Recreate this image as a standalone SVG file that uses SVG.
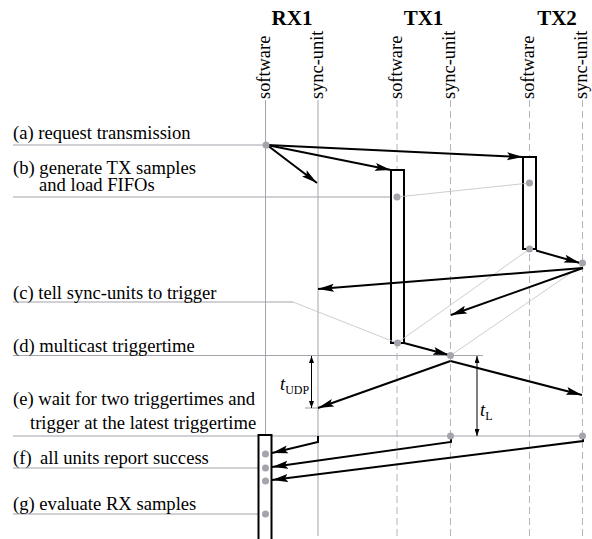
<svg xmlns="http://www.w3.org/2000/svg" width="592" height="539" viewBox="0 0 592 539">
  <style>
    .head { font-family: "Liberation Serif", "Times New Roman", serif; font-weight: bold; font-size: 21px; fill: #000; text-anchor: middle; }
    .role { font-family: "Liberation Serif", "Times New Roman", serif; font-size: 18.4px; fill: #000; text-anchor: start; }
    .lbl { font-family: "Liberation Serif", "Times New Roman", serif; font-size: 18.6px; fill: #000; }
    .sym { font-family: "Liberation Serif", "Times New Roman", serif; font-size: 18.6px; font-style: italic; fill: #000; }
    .sub { font-family: "Liberation Serif", "Times New Roman", serif; font-size: 12px; fill: #000; }
    .life { stroke: #a4a4ac; stroke-width: 1; fill: none; }
    .dash { stroke: #b4b4bc; stroke-width: 1; stroke-dasharray: 7 4; fill: none; }
    .row { stroke: #a4a4ac; stroke-width: 1.1; fill: none; }
    .thin { stroke: #c0c0c6; stroke-width: 0.8; fill: none; }
    .msg { stroke: #000; stroke-width: 2; fill: none; marker-end: url(#arr); }
    .act { stroke: #000; stroke-width: 2; fill: #fff; }
    .dot { fill: #a4a4ac; }
    .dim { stroke: #000; stroke-width: 1; fill: none; marker-start: url(#tipS); marker-end: url(#tip); }
  </style>
  <defs>
    <marker id="arr" markerUnits="userSpaceOnUse" markerWidth="17" markerHeight="9" viewBox="0 0 17 9" refX="16" refY="4.5" orient="auto">
      <path d="M0,0.5 L16,4.5 L0,8.5 L3,4.5 z" fill="#000"/>
    </marker>
    <marker id="tip" markerUnits="userSpaceOnUse" markerWidth="7" markerHeight="5" viewBox="0 0 7 5" refX="7" refY="2.5" orient="auto">
      <path d="M0,0 L7,2.5 L0,5 z" fill="#000"/>
    </marker>
    <marker id="tipS" markerUnits="userSpaceOnUse" markerWidth="7" markerHeight="5" viewBox="0 0 7 5" refX="0" refY="2.5" orient="auto">
      <path d="M7,0 L0,2.5 L7,5 z" fill="#000"/>
    </marker>
  </defs>

  <rect width="592" height="539" fill="#fff"/>

  <!-- step rows with their captions -->
  <g id="rows">
    <line class="row" x1="13" y1="145" x2="266" y2="145"/>
    <line class="row" x1="13" y1="197" x2="397" y2="197"/>
    <line class="row" x1="13" y1="302" x2="293" y2="302"/>
    <line class="row" x1="13" y1="355.5" x2="483" y2="355.5"/>
    <line class="row" x1="13" y1="436" x2="582" y2="436"/>
    <line class="row" x1="13" y1="468" x2="266" y2="468"/>
    <line class="row" x1="13" y1="514" x2="266" y2="514"/>
    <line class="row" x1="305" y1="408" x2="319" y2="408"/>

    <text class="lbl" x="13" y="139">(a) request transmission</text>
    <text class="lbl" x="13" y="174">(b) generate TX samples</text>
    <text class="lbl" x="39" y="191">and load FIFOs</text>
    <text class="lbl" x="13" y="299">(c) tell sync-units to trigger</text>
    <text class="lbl" x="13" y="352">(d) multicast triggertime</text>
    <text class="lbl" x="13" y="405">(e) wait for two triggertimes and</text>
    <text class="lbl" x="30" y="429">trigger at the latest triggertime</text>
    <text class="lbl" x="13" y="464">(f)<tspan x="40">all units report success</tspan></text>
    <text class="lbl" x="13" y="510">(g) evaluate RX samples</text>
  </g>

  <!-- RX1 -->
  <g id="rx1">
    <text class="head" x="292" y="25">RX1</text>
    <text class="role" transform="translate(270,99) rotate(-90)">software</text>
    <text class="role" transform="translate(322.5,99) rotate(-90)">sync-unit</text>
    <line class="life" x1="265.5" y1="100" x2="265.5" y2="539"/>
    <line class="life" x1="318" y1="100" x2="318" y2="536"/>
    <rect class="act" x="258.5" y="435" width="13" height="110"/>
  </g>

  <!-- TX1 -->
  <g id="tx1">
    <text class="head" x="423.5" y="25">TX1</text>
    <text class="role" transform="translate(401.5,99) rotate(-90)">software</text>
    <text class="role" transform="translate(454.5,99) rotate(-90)">sync-unit</text>
    <line class="dash" x1="397" y1="100" x2="397" y2="539"/>
    <line class="dash" x1="450.5" y1="100" x2="450.5" y2="539"/>
    <rect class="act" x="391" y="170" width="13" height="173"/>
  </g>

  <!-- TX2 -->
  <g id="tx2">
    <text class="head" x="557" y="25">TX2</text>
    <text class="role" transform="translate(533.5,99) rotate(-90)">software</text>
    <text class="role" transform="translate(586.5,99) rotate(-90)">sync-unit</text>
    <line class="dash" x1="529.5" y1="100" x2="529.5" y2="539"/>
    <line class="dash" x1="582.5" y1="100" x2="582.5" y2="539"/>
    <rect class="act" x="523" y="157" width="13" height="92"/>
  </g>

  <!-- messages and timing -->
  <g id="connectors">
    <!-- faint guide links -->
    <line class="thin" x1="397" y1="197" x2="529.5" y2="183"/>
    <line class="thin" x1="293" y1="302" x2="397" y2="343"/>
    <line class="thin" x1="529.5" y1="249" x2="397" y2="343"/>
    <line class="thin" x1="582.5" y1="265" x2="450.5" y2="355.5"/>

    <!-- (a) -->
    <line class="msg" x1="267" y1="145" x2="523" y2="157"/>
    <line class="msg" x1="267" y1="145" x2="391" y2="170"/>
    <line class="msg" x1="267" y1="145" x2="317" y2="183"/>
    <!-- to sync-units -->
    <line class="msg" x1="536" y1="250.5" x2="580" y2="263"/>
    <line class="msg" x1="404" y1="343" x2="449" y2="355"/>
    <!-- (c) -->
    <line class="msg" x1="583" y1="268" x2="318" y2="289"/>
    <line class="msg" x1="583" y1="268" x2="451" y2="315"/>
    <!-- (d) -->
    <line class="msg" x1="450.5" y1="361" x2="318" y2="408"/>
    <line class="msg" x1="450.5" y1="361" x2="582" y2="395"/>
    <!-- (f) -->
    <polyline class="msg" points="318,436 318,442 272,453"/>
    <polyline class="msg" points="451,436 451,442 272,467"/>
    <polyline class="msg" points="583,436 583,441 272,480"/>

    <!-- timing dimensions -->
    <line class="dim" x1="311.5" y1="356" x2="311.5" y2="408"/>
    <line class="dim" x1="477" y1="356" x2="477" y2="436"/>
    <text class="sym" x="280" y="390">t<tspan class="sub" font-style="normal" dy="4">UDP</tspan></text>
    <text class="sym" x="480" y="416">t<tspan class="sub" font-style="normal" dy="4">L</tspan></text>

    <!-- event points -->
    <circle class="dot" cx="266" cy="145" r="3.5"/>
    <circle class="dot" cx="397" cy="197" r="3.5"/>
    <circle class="dot" cx="529.5" cy="183" r="3.5"/>
    <circle class="dot" cx="529.5" cy="249" r="3.5"/>
    <circle class="dot" cx="582.5" cy="263" r="3.5"/>
    <circle class="dot" cx="397.5" cy="343" r="3.5"/>
    <circle class="dot" cx="450.5" cy="355.5" r="3.5"/>
    <circle class="dot" cx="450.5" cy="436" r="3.5"/>
    <circle class="dot" cx="582.5" cy="436" r="3.5"/>
    <circle class="dot" cx="265.5" cy="454" r="3.5"/>
    <circle class="dot" cx="265.5" cy="468" r="3.5"/>
    <circle class="dot" cx="265.5" cy="481" r="3.5"/>
    <circle class="dot" cx="265.5" cy="514" r="3.5"/>
  </g>
</svg>
